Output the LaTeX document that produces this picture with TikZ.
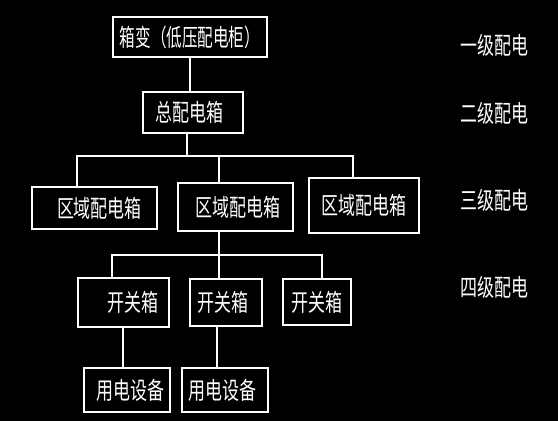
\documentclass[tikz,border=0pt]{standalone}
\usepackage{fontspec}
\usepackage{graphicx}
\newfontfamily\cjk{Noto Sans CJK SC}
\newcommand{\zi}[1]{\scalebox{0.85}[1.2]{#1}}

\begin{document}
\begin{tikzpicture}[x=1pt,y=-1pt]
\tikzstyle{kuang}=[draw=white, line width=1.1pt, inner sep=0pt, text=white, font=\cjk\fontsize{20}{20}\selectfont]
\tikzstyle{xian}=[draw=white, line width=1.1pt]
\tikzstyle{jibie}=[text=white, inner sep=0pt, font=\cjk\fontsize{20}{20}\selectfont]
\fill[black] (0,0) rectangle (558,421);
\useasboundingbox (0,0) rectangle (558,421);
% boxes
\node[kuang, minimum width=154pt, minimum height=40pt] (xb) at (190,37) {\scalebox{0.78}[1.2]{箱变（低压配电柜）}};
\node[kuang, minimum width=100pt, minimum height=41pt] (zong) at (193,112.5) {\zi{总配电箱}\hspace*{8pt}};
\node[kuang, minimum width=125pt, minimum height=42pt] (qy1) at (94.5,208) {\hspace*{10pt}\zi{区域配电箱}};
\node[kuang, minimum width=115pt, minimum height=48pt] (qy2) at (235.5,207) {\hspace*{4pt}\zi{区域配电箱}};
\node[kuang, minimum width=110pt, minimum height=55pt] (qy3) at (364,205.5) {\zi{区域配电箱}};
\node[kuang, minimum width=91pt, minimum height=49pt] (kg1) at (123.5,302.5) {\hspace*{20pt}\zi{开关箱}};
\node[kuang, minimum width=72pt, minimum height=47pt] (kg2) at (226,302.5) {\zi{开关箱}\hspace*{6pt}};
\node[kuang, minimum width=68pt, minimum height=46pt] (kg3) at (317,302) {\zi{开关箱}};
\node[kuang, minimum width=86pt, minimum height=44pt] (yd1) at (127,390) {\hspace*{6pt}\zi{用电设备}};
\node[kuang, minimum width=86pt, minimum height=44pt] (yd2) at (225,390) {\zi{用电设备}\hspace*{5pt}};
% levels
\node[jibie] (j1) at (494,45) {\zi{一级配电}};
\node[jibie] (j2) at (494,113) {\zi{二级配电}};
\node[jibie] (j3) at (494,200) {\zi{三级配电}};
\node[jibie] (j4) at (494,287) {\zi{四级配电}};
% connectors
\coordinate (z1) at (187,156);
\coordinate (a1) at (77,156);
\coordinate (a2) at (219,156);
\coordinate (a3) at (353,156);
\coordinate (b1) at (112,255);
\coordinate (b2) at (219,255);
\coordinate (b3) at (322,255);
\coordinate (c1) at (123,347);
\coordinate (c2) at (217,347);
\draw[xian] (xb.south) -- (xb.south |- zong.north);
\draw[xian] (z1 |- zong.south) -- (z1);
\draw[xian] (a1 |- qy1.north) -- (a1) -- (a3) -- (a3 |- qy3.north);
\draw[xian] (a2) -- (a2 |- qy2.north);
\draw[xian] (b2 |- qy2.south) -- (b2 |- kg2.north);
\draw[xian] (b1 |- kg1.north) -- (b1) -- (b3) -- (b3 |- kg3.north);
\draw[xian] (c1 |- kg1.south) -- (c1 |- yd1.north);
\draw[xian] (c2 |- kg2.south) -- (c2 |- yd2.north);
\end{tikzpicture}
\end{document}
